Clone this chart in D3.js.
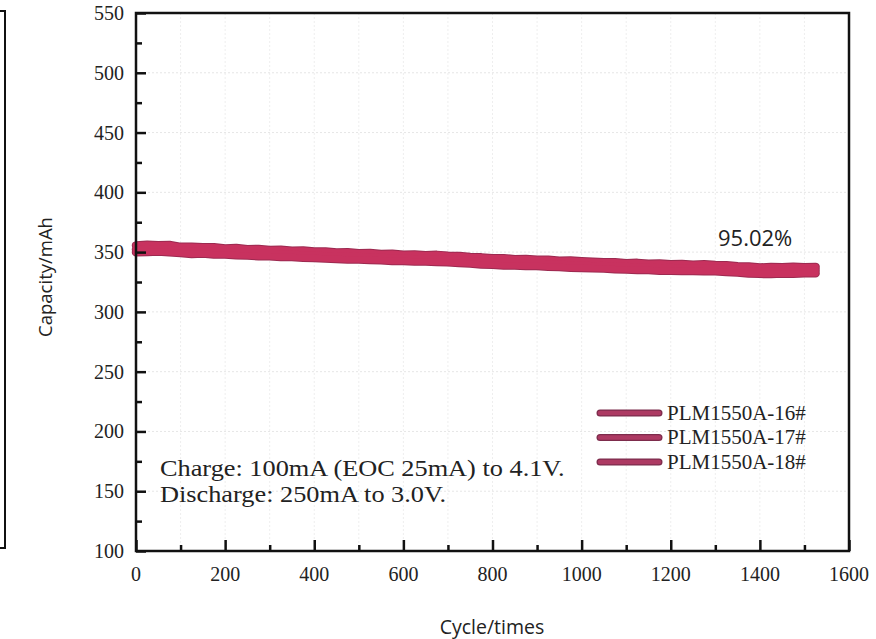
<!DOCTYPE html>
<html lang="en">
<head>
<meta charset="UTF-8">
<script src="https://d3js.org/d3.v7.min.js"></script>
<title>Cycle life</title>
<style>
    body { margin: 0; background: #fff; }
    .serif { font-family: "Liberation Serif", "Times New Roman", serif; fill: #222; }
    .sans { font-family: "Open Sans", "Noto Sans", sans-serif; fill: #222; }
</style>
</head>
<body>
<div id="chart"></div>
<script>
    // cycles sampled every 25
    const cycles = d3.range(0, 1526, 25);

    const seriesNames = ["PLM1550A-16#", "PLM1550A-17#", "PLM1550A-18#"];

    const cap16 = [355.6,356.1,355.7,355.9,354.4,354.5,354.1,354.0,353.1,353.4,352.4,352.6,351.8,352.0,351.2,351.3,
        350.5,350.6,349.6,349.9,349.1,349.3,348.4,348.6,347.8,348.1,347.4,347.7,346.9,346.8,345.9,345.6,344.8,344.9,
        344.1,344.3,343.6,343.7,342.8,343.0,342.4,342.0,341.6,341.5,340.7,341.0,340.3,340.4,339.8,340.1,339.5,339.9,
        339.2,339.1,338.2,338.0,337.1,337.5,337.3,337.8,337.4,337.6];
    const cap17 = [352.2,353.3,353.0,352.5,352.1,351.2,351.9,350.7,350.8,350.0,350.1,349.2,349.5,348.6,348.9,347.9,
        348.1,347.2,347.3,346.5,346.8,345.9,346.1,345.2,345.5,344.7,345.1,344.3,344.6,343.5,343.4,342.3,342.4,341.5,
        341.8,340.9,341.3,340.3,340.5,339.5,339.7,338.9,339.2,338.2,338.4,337.6,338.0,337.1,337.5,336.7,337.2,336.5,
        336.9,335.9,335.9,334.7,334.8,334.3,335.1,334.6,335.3,334.9];
    const cap18 = [349.9,350.0,350.6,349.8,349.2,348.5,348.9,348.0,347.9,347.4,347.1,346.6,346.5,346.0,345.9,345.3,
        345.1,344.6,344.3,343.9,343.8,343.3,343.1,342.6,342.5,342.1,342.1,341.7,341.6,340.9,340.5,339.7,339.4,338.9,
        338.8,338.3,338.3,337.7,337.5,336.9,336.7,336.4,336.2,335.6,335.4,335.0,335.0,334.5,334.5,334.1,334.2,333.9,
        333.9,333.3,333.0,332.1,331.8,331.7,332.1,332.0,332.3,332.3];

    const series = [cap16, cap17, cap18];

    const xTicks = [0, 200, 400, 600, 800, 1000, 1200, 1400, 1600];
    const yTicks = [100, 150, 200, 250, 300, 350, 400, 450, 500, 550];
    const retention = "95.02%";
    const conditions = ["Charge: 100mA (EOC 25mA) to 4.1V.", "Discharge: 250mA to 3.0V."];

    const W = 876, H = 639;
    const margin = { top: 13, right: 27, bottom: 88, left: 136 };

    const x = d3.scaleLinear().domain([0, 1600]).range([margin.left, W - margin.right]);
    const y = d3.scaleLinear().domain([100, 550]).range([H - margin.bottom, margin.top]);

    const svg = d3.select("#chart").append("svg")
        .attr("width", W)
        .attr("height", H);

    // stray frame piece at the far left
    svg.append("rect")
        .attr("x", -20).attr("y", 11)
        .attr("width", 25).attr("height", 537)
        .attr("fill", "none").attr("stroke", "#111").attr("stroke-width", 2);

    // faint dotted grid
    svg.append("g").selectAll("line")
        .data(d3.range(100, 1600, 100))
        .enter().append("line")
        .attr("x1", d => x(d)).attr("x2", d => x(d))
        .attr("y1", y(550)).attr("y2", y(100))
        .attr("stroke", "#eeeeee").attr("stroke-dasharray", "2,2");
    svg.append("g").selectAll("line")
        .data(yTicks.slice(1, -1))
        .enter().append("line")
        .attr("x1", x(0)).attr("x2", x(1600))
        .attr("y1", d => y(d)).attr("y2", d => y(d))
        .attr("stroke", "#e6e6e6").attr("stroke-dasharray", "2,2");

    // data band: dark edge underneath, crimson on top
    const line = d3.line()
        .x((d, i) => x(cycles[i]))
        .y(d => y(d));

    svg.append("g").selectAll("path")
        .data(series)
        .enter().append("path")
        .attr("d", line)
        .attr("fill", "none")
        .attr("stroke", "#9c2a50")
        .attr("stroke-width", 8.5)
        .attr("stroke-linecap", "round")
        .attr("stroke-linejoin", "round");
    svg.append("g").selectAll("path")
        .data(series)
        .enter().append("path")
        .attr("d", line)
        .attr("fill", "none")
        .attr("stroke", "#c8325f")
        .attr("stroke-width", 6.5)
        .attr("stroke-linecap", "round")
        .attr("stroke-linejoin", "round");

    // frame
    svg.append("rect")
        .attr("x", x(0)).attr("y", y(550))
        .attr("width", x(1600) - x(0)).attr("height", y(100) - y(550))
        .attr("fill", "none").attr("stroke", "#111").attr("stroke-width", 2.5);

    // axes with inward ticks
    svg.append("g")
        .attr("transform", `translate(${x(0)},0)`)
        .call(d3.axisRight(y).tickValues(yTicks).tickSize(10).tickFormat(""));
    svg.append("g")
        .attr("transform", `translate(${x(0)},0)`)
        .call(d3.axisRight(y).tickValues(d3.range(125, 550, 50)).tickSize(6).tickFormat(""));
    svg.append("g")
        .attr("transform", `translate(0,${y(100)})`)
        .call(d3.axisTop(x).tickValues(xTicks).tickSize(11).tickFormat(""));
    svg.append("g")
        .attr("transform", `translate(0,${y(100)})`)
        .call(d3.axisTop(x).tickValues(d3.range(100, 1600, 200)).tickSize(6).tickFormat(""));
    svg.selectAll(".domain").remove();
    svg.selectAll(".tick line").attr("stroke", "#111").attr("stroke-width", 2.5);

    // tick labels
    svg.append("g").selectAll("text")
        .data(yTicks)
        .enter().append("text")
        .attr("class", "serif")
        .attr("x", x(0) - 12)
        .attr("y", d => y(d) + 7)
        .attr("text-anchor", "end")
        .attr("font-size", 20)
        .text(d => d);
    svg.append("g").selectAll("text")
        .data(xTicks)
        .enter().append("text")
        .attr("class", "serif")
        .attr("x", d => x(d))
        .attr("y", y(100) + 30)
        .attr("text-anchor", "middle")
        .attr("font-size", 20)
        .text(d => d);

    // axis titles
    svg.append("text")
        .attr("class", "sans")
        .attr("transform", `translate(52,277) rotate(-90)`)
        .attr("text-anchor", "middle")
        .attr("font-size", 18.5)
        .text("Capacity/mAh");
    svg.append("text")
        .attr("class", "sans")
        .attr("x", 492)
        .attr("y", 634)
        .attr("text-anchor", "middle")
        .attr("font-size", 19.5)
        .text("Cycle/times");

    // annotations
    svg.append("text")
        .attr("class", "sans")
        .attr("x", 718)
        .attr("y", 246)
        .attr("font-size", 22)
        .text(retention);
    // the test-condition text is a little wider than plain Times in the source
    svg.append("g")
        .attr("transform", "translate(160,0) scale(1.17,1)")
        .selectAll("text")
        .data(conditions)
        .enter().append("text")
        .attr("class", "serif")
        .attr("x", 0)
        .attr("y", (d, i) => 476 + i * 26)
        .attr("font-size", 22.5)
        .text(d => d);

    // legend
    const legend = svg.append("g").attr("transform", "translate(600,413)");
    const item = legend.selectAll("g")
        .data(seriesNames)
        .enter().append("g")
        .attr("transform", (d, i) => `translate(0,${i * 24.5})`);
    item.append("line")
        .attr("x1", 0).attr("x2", 59)
        .attr("stroke", "#7d2c4c").attr("stroke-width", 7)
        .attr("stroke-linecap", "round");
    item.append("line")
        .attr("x1", 0).attr("x2", 59)
        .attr("stroke", "#ad3a63").attr("stroke-width", 4.5)
        .attr("stroke-linecap", "round");
    item.append("text")
        .attr("class", "serif")
        .attr("x", 67)
        .attr("y", 6.5)
        .attr("font-size", 21)
        .text(d => d);
</script>
</body>
</html>
